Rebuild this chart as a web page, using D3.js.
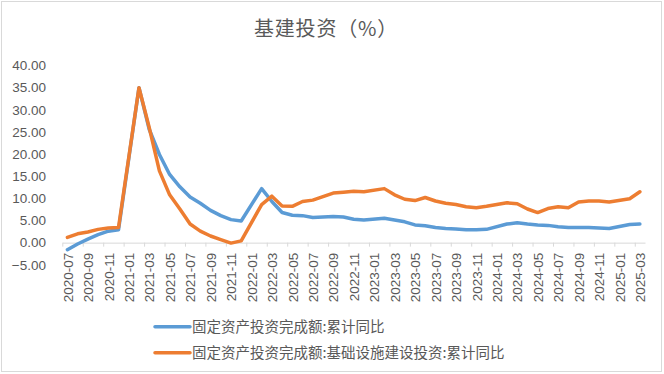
<!DOCTYPE html>
<html>
<head>
<meta charset="utf-8">
<script src="https://cdn.jsdelivr.net/npm/d3@7"></script>
<style>
  body { margin: 0; background: #fff; }
  svg { display: block; }
</style>
</head>
<body>
<script>
// months with data (no January: Jan-Feb is reported together)
const months = [
  "2020-07","2020-08","2020-09","2020-10","2020-11","2020-12",
  "2021-02","2021-03","2021-04","2021-05","2021-06","2021-07","2021-08","2021-09","2021-10","2021-11","2021-12",
  "2022-02","2022-03","2022-04","2022-05","2022-06","2022-07","2022-08","2022-09","2022-10","2022-11","2022-12",
  "2023-02","2023-03","2023-04","2023-05","2023-06","2023-07","2023-08","2023-09","2023-10","2023-11","2023-12",
  "2024-02","2024-03","2024-04","2024-05","2024-06","2024-07","2024-08","2024-09","2024-10","2024-11","2024-12",
  "2025-02","2025-03"
];
const fai = [
  -1.6, -0.3, 0.8, 1.8, 2.6, 2.9,
  35.0, 25.6, 19.9, 15.4, 12.6, 10.3, 8.9, 7.3, 6.1, 5.2, 4.9,
  12.2, 9.3, 6.8, 6.2, 6.1, 5.7, 5.8, 5.9, 5.8, 5.3, 5.1,
  5.5, 5.1, 4.7, 4.0, 3.8, 3.4, 3.2, 3.1, 2.9, 2.9, 3.0,
  4.2, 4.5, 4.2, 4.0, 3.9, 3.6, 3.4, 3.4, 3.4, 3.3, 3.2,
  4.1, 4.2
];
const infra = [
  1.2, 2.0, 2.4, 3.0, 3.3, 3.4,
  35.0, 26.0, 16.2, 10.8, 7.6, 4.2, 2.6, 1.5, 0.7, -0.1, 0.4,
  8.6, 10.5, 8.3, 8.2, 9.3, 9.6, 10.4, 11.2, 11.4, 11.6, 11.5,
  12.2, 10.8, 9.8, 9.5, 10.2, 9.4, 8.9, 8.6, 8.1, 7.9, 8.2,
  9.0, 8.8, 7.6, 6.8, 7.7, 8.1, 7.9, 9.2, 9.4, 9.4, 9.2,
  9.9, 11.5
];
const tickLabels = [
  "2020-07","2020-09","2020-11","2021-01","2021-03","2021-05","2021-07","2021-09","2021-11",
  "2022-01","2022-03","2022-05","2022-07","2022-09","2022-11",
  "2023-01","2023-03","2023-05","2023-07","2023-09","2023-11",
  "2024-01","2024-03","2024-05","2024-07","2024-09","2024-11",
  "2025-01","2025-03"
];
const yTicks = [-5, 0, 5, 10, 15, 20, 25, 30, 35, 40];
const seriesNames = ["固定资产投资完成额:累计同比", "固定资产投资完成额:基础设施建设投资:累计同比"];
const colors = ["#5B9BD5", "#ED7D31"];
const title = "基建投资（%）";

const width = 664;
const height = 374;
const numFont = "'Liberation Sans', Arial, 'Noto Sans CJK SC', sans-serif";
const cjkFont = "'Noto Sans CJK SC', 'Liberation Sans', sans-serif";
const textColor = "#595959";

// month string -> month offset from 2020-07
const monthIndex = s => {
  const [y, m] = s.split("-").map(Number);
  return (y - 2020) * 12 + (m - 7);
};

const xScale = d3.scaleLinear()
  .domain([0, 57])
  .range([62.3, 645]);

const yScale = d3.scaleLinear()
  .domain([-5, 40])
  .range([264.8, 65.5]);

const svg = d3.select("body")
  .append("svg")
  .attr("width", width)
  .attr("height", height);

// chart border
svg.append("rect")
  .attr("x", 1.5)
  .attr("y", 1.5)
  .attr("width", 660)
  .attr("height", 370)
  .attr("fill", "#fff")
  .attr("stroke", "#d9d9d9");

svg.append("text")
  .attr("x", 326)
  .attr("y", 36)
  .attr("text-anchor", "middle")
  .attr("font-family", cjkFont)
  .attr("font-size", 20)
  .attr("letter-spacing", 0.8)
  .attr("fill", textColor)
  .text(title);

// y axis labels only
const yAxis = svg.append("g")
  .attr("transform", "translate(46,0)")
  .call(d3.axisLeft(yScale).tickValues(yTicks).tickFormat(d3.format(".2f")).tickSize(0).tickPadding(0));
yAxis.select(".domain").remove();
yAxis.selectAll("text")
  .attr("font-family", numFont)
  .attr("font-size", 13.5)
  .attr("fill", textColor);

// x axis: ticks at every other month boundary, labels at month centres
const y0 = yScale(0);
const xTicks = svg.append("g")
  .attr("transform", `translate(0,${y0})`)
  .call(d3.axisBottom(xScale)
    .tickValues(tickLabels.map(monthIndex))
    .tickFormat("")
    .tickSize(4)
    .tickSizeOuter(0));
xTicks.select(".domain").attr("stroke", "#d9d9d9");
xTicks.selectAll(".tick line").attr("stroke", "#d9d9d9");

const xLabels = svg.append("g")
  .attr("transform", `translate(0,${y0})`)
  .call(d3.axisBottom(xScale)
    .tickValues(tickLabels.map(d => monthIndex(d) + 0.5))
    .tickFormat((d, i) => tickLabels[i])
    .tickSize(0));
xLabels.select(".domain").remove();
xLabels.selectAll("text")
  .attr("transform", "rotate(-90)")
  .attr("x", -10)
  .attr("y", 0)
  .attr("dy", "0.35em")
  .attr("text-anchor", "end")
  .attr("font-family", numFont)
  .attr("font-size", 13.5)
  .attr("fill", textColor);

const line = d3.line()
  .x((d, i) => xScale(monthIndex(months[i]) + 0.5))
  .y(d => yScale(d));

[fai, infra].forEach((values, k) => {
  svg.append("path")
    .datum(values)
    .attr("d", line)
    .attr("fill", "none")
    .attr("stroke", colors[k])
    .attr("stroke-width", 3.5)
    .attr("stroke-linejoin", "round")
    .attr("stroke-linecap", "round");
});

// legend
const legend = svg.append("g")
  .selectAll("g")
  .data(seriesNames)
  .enter()
  .append("g")
  .attr("transform", (d, i) => `translate(155,${326.7 + i * 26})`);

legend.append("line")
  .attr("x1", 0)
  .attr("x2", 35)
  .attr("stroke", (d, i) => colors[i])
  .attr("stroke-width", 3.5)
  .attr("stroke-linecap", "round");

legend.append("text")
  .attr("x", 37)
  .attr("dy", "0.35em")
  .attr("font-family", cjkFont)
  .attr("font-size", 14.5)
  .attr("fill", textColor)
  .text(d => d);
</script>
</body>
</html>
